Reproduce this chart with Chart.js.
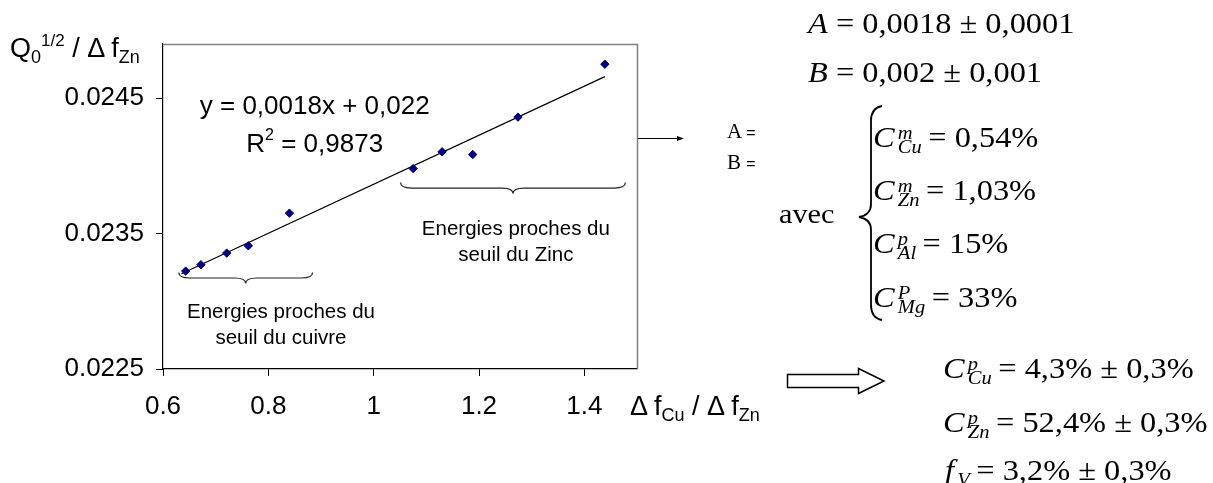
<!DOCTYPE html>
<html>
<head>
<meta charset="utf-8">
<script src="https://cdn.jsdelivr.net/npm/chart.js@4/dist/chart.umd.min.js"></script>
<style>
  body { margin: 0; background: #fff; }
  #wrap { position: relative; width: 1213px; height: 483px; overflow: hidden; }
  #chart { position: absolute; left: 0; top: 0; }
  svg { position: absolute; left: 0; top: 0; }
  .t { position: absolute; white-space: nowrap; line-height: 1; color: #000; }
  .sans { font-family: "Liberation Sans", Arial, sans-serif; font-size: 27px; }
  .serif { font-family: "Liberation Serif", "Times New Roman", serif; font-size: 30px; transform: scaleX(1.08); transform-origin: 0 0; }
  .lo { font-size: 18px; position: relative; top: 6px; }
  .hi { font-size: 17px; position: relative; top: -11px; }
  .ss { display: inline-block; font-size: 19px; font-style: italic; line-height: 14px; vertical-align: -6px; margin: 0 6px 0 3px; }
  .ss span { display: block; }
  .sm { font-family: "Liberation Sans", Arial, sans-serif; font-size: 16px; }
</style>
</head>
<body>
<div id="wrap">
  <canvas id="chart" width="1213" height="483"></canvas>

  <svg width="1213" height="483">
    <line x1="638" y1="138.5" x2="678" y2="138.5" stroke="#000" stroke-width="1"/>
    <polygon points="684,138.5 677,136 677,141" fill="#000"/>
    <path d="M882,106 Q871,108 871,121 L871,204 Q871,215 859,217 Q871,219 871,230 L871,305 Q871,318 882,320" fill="none" stroke="#000" stroke-width="1.8"/>
    <polygon points="787.5,374.5 858.5,374.5 858.5,368.5 884,381 858.5,393.5 858.5,387.5 787.5,387.5" fill="#fff" stroke="#000" stroke-width="1.5"/>
  </svg>

  <!-- axis titles -->
  <div class="t sans" style="left:10px;top:35px">Q<span class="lo">0</span><span class="hi">1/2</span> / Δ f<span class="lo">Zn</span></div>
  <div class="t sans" style="left:630px;top:393px">Δ f<span class="lo">Cu</span> / Δ f<span class="lo">Zn</span></div>

  <!-- right hand results -->
  <div class="t serif" style="left:808px;top:8px"><i>A</i> = 0,0018 ± 0,0001</div>
  <div class="t serif" style="left:808px;top:57px"><i>B</i> = 0,002 ± 0,001</div>

  <div class="t serif" style="left:727px;top:121px;font-size:21px;transform:none">A <span class="sm">=</span></div>
  <div class="t serif" style="left:727px;top:152px;font-size:21px;transform:none">B <span class="sm">=</span></div>
  <div class="t serif" style="left:779px;top:200px;font-size:28px">avec</div>

  <div class="t serif" style="left:873px;top:122px"><i>C</i><span class="ss"><span>m</span><span>Cu</span></span>= 0,54%</div>
  <div class="t serif" style="left:873px;top:175px"><i>C</i><span class="ss"><span>m</span><span>Zn</span></span>= 1,03%</div>
  <div class="t serif" style="left:873px;top:228px"><i>C</i><span class="ss"><span>p</span><span>Al</span></span>= 15%</div>
  <div class="t serif" style="left:873px;top:282px"><i>C</i><span class="ss"><span>P</span><span>Mg</span></span>= 33%</div>

  <div class="t serif" style="left:943px;top:353px"><i>C</i><span class="ss"><span>p</span><span>Cu</span></span>= 4,3% ± 0,3%</div>
  <div class="t serif" style="left:943px;top:407px"><i>C</i><span class="ss"><span>p</span><span>Zn</span></span>= 52,4% ± 0,3%</div>
  <div class="t serif" style="left:945px;top:455px"><i>f</i><span class="ss"><span>&nbsp;</span><span>V</span></span>= 3,2% ± 0,3%</div>
</div>

<script>
// measured points: Δf_Cu/Δf_Zn against Q0^1/2/Δf_Zn
const xValues = [0.643, 0.672, 0.721, 0.762, 0.840, 1.075, 1.130, 1.188, 1.274, 1.439];
const yValues = [0.023223, 0.023270, 0.023356, 0.023410, 0.023651, 0.023980, 0.024104, 0.024084, 0.024360, 0.024751];

// linear trend line ends (y = 0,0018x + 0,022)
const trendX = [0.635, 1.439];
const trendY = [0.023203, 0.024659];

const xTicks = [0.6, 0.8, 1, 1.2, 1.4];
const yTicks = [0.0225, 0.0235, 0.0245];

const fitLine = 'y = 0,0018x + 0,022';
const fitR2 = ' = 0,9873';
const groupLabels = [
    ['Energies proches du', 'seuil du cuivre'],
    ['Energies proches du', 'seuil du Zinc']
];

// where the notes sit, in axis units
const braceSpots = [
    { from: 0.630, to: 0.884, at: 0.023172 },
    { from: 1.051, to: 1.478, at: 0.023836 }
];
const labelSpots = [
    { x: 0.824, y: 0.022916 },
    { x: 1.270, y: 0.023528 }
];
const fitSpot = { x: 0.888, y1: 0.024436, y2: 0.024155 };

const SANS = '"Liberation Sans", Arial, sans-serif';

const drawBrace = (ctx, x1, x2, y, d) => {
    const xm = (x1 + x2) / 2;
    ctx.beginPath();
    ctx.moveTo(x1, y - d);
    ctx.quadraticCurveTo(x1, y, x1 + d * 2, y);
    ctx.lineTo(xm - d * 2, y);
    ctx.quadraticCurveTo(xm, y, xm, y + d);
    ctx.quadraticCurveTo(xm, y, xm + d * 2, y);
    ctx.lineTo(x2 - d * 2, y);
    ctx.quadraticCurveTo(x2, y, x2, y - d);
    ctx.stroke();
};

// gray frame on top and right of the plot area
const frame = {
    id: 'frame',
    beforeDatasetsDraw(chart) {
        const { ctx, chartArea: a } = chart;
        ctx.save();
        ctx.strokeStyle = '#808080';
        ctx.lineWidth = 1.5;
        ctx.beginPath();
        ctx.moveTo(a.left, a.top + 0.5);
        ctx.lineTo(a.right + 0.5, a.top + 0.5);
        ctx.lineTo(a.right + 0.5, a.bottom);
        ctx.stroke();
        ctx.restore();
    }
};

const notes = {
    id: 'notes',
    afterDatasetsDraw(chart) {
        const { ctx } = chart;
        const sx = chart.scales.x, sy = chart.scales.y;
        ctx.save();

        ctx.strokeStyle = '#222';
        ctx.lineWidth = 1.2;
        braceSpots.forEach(b => {
            drawBrace(ctx, sx.getPixelForValue(b.from), sx.getPixelForValue(b.to), sy.getPixelForValue(b.at), 5.5);
        });

        ctx.fillStyle = '#000';
        ctx.textBaseline = 'middle';
        ctx.textAlign = 'center';
        ctx.font = '20.5px ' + SANS;
        labelSpots.forEach((p, i) => {
            const px = sx.getPixelForValue(p.x), py = sy.getPixelForValue(p.y);
            groupLabels[i].forEach((line, j) => ctx.fillText(line, px, py + j * 25.5));
        });

        // regression equation and R²
        const ex = sx.getPixelForValue(fitSpot.x);
        ctx.font = '26px ' + SANS;
        ctx.fillText(fitLine, ex, sy.getPixelForValue(fitSpot.y1));

        const ry = sy.getPixelForValue(fitSpot.y2);
        ctx.textAlign = 'left';
        const wR = ctx.measureText('R').width;
        const wRest = ctx.measureText(fitR2).width;
        ctx.font = '16px ' + SANS;
        const w2 = ctx.measureText('2').width;
        let x0 = ex - (wR + w2 + wRest) / 2;
        ctx.font = '26px ' + SANS;
        ctx.fillText('R', x0, ry);
        ctx.font = '16px ' + SANS;
        ctx.fillText('2', x0 + wR, ry - 9);
        ctx.font = '26px ' + SANS;
        ctx.fillText(fitR2, x0 + wR + w2, ry);

        ctx.restore();
    }
};

new Chart(document.getElementById('chart').getContext('2d'), {
    type: 'scatter',
    data: {
        datasets: [{
            data: xValues.map((x, i) => ({ x, y: yValues[i] })),
            pointStyle: 'rectRot',
            pointRadius: 4.2,
            backgroundColor: '#000080',
            borderColor: '#000080',
            borderWidth: 1
        }, {
            type: 'line',
            data: trendX.map((x, i) => ({ x, y: trendY[i] })),
            showLine: true,
            borderColor: '#000',
            borderWidth: 1.2,
            pointRadius: 0,
            fill: false
        }]
    },
    options: {
        responsive: false,
        animation: false,
        devicePixelRatio: 1,
        layout: { padding: { left: 0, top: 44, right: 576, bottom: 0 } },
        plugins: { legend: { display: false }, tooltip: { enabled: false } },
        scales: {
            x: {
                type: 'linear',
                min: 0.6,
                max: 1.5,
                afterBuildTicks: s => { s.ticks = xTicks.map(v => ({ value: v })); },
                afterFit: s => { s.height = 114; },
                grid: { drawOnChartArea: false, tickLength: 7, color: '#000', lineWidth: 1 },
                border: { color: '#000', width: 1.2 },
                ticks: {
                    color: '#000',
                    font: { family: SANS, size: 26 },
                    padding: 15,
                    maxRotation: 0,
                    autoSkip: false,
                    callback: v => String(v)
                }
            },
            y: {
                type: 'linear',
                min: 0.0225,
                max: 0.0249,
                afterBuildTicks: s => { s.ticks = yTicks.map(v => ({ value: v })); },
                afterFit: s => { s.width = 163; },
                grid: { drawOnChartArea: false, tickLength: 7, color: '#000', lineWidth: 1 },
                border: { color: '#000', width: 1.2 },
                ticks: {
                    color: '#000',
                    font: { family: SANS, size: 26 },
                    padding: 12,
                    autoSkip: false,
                    callback: v => String(v)
                }
            }
        }
    },
    plugins: [frame, notes]
});
</script>
</body>
</html>
